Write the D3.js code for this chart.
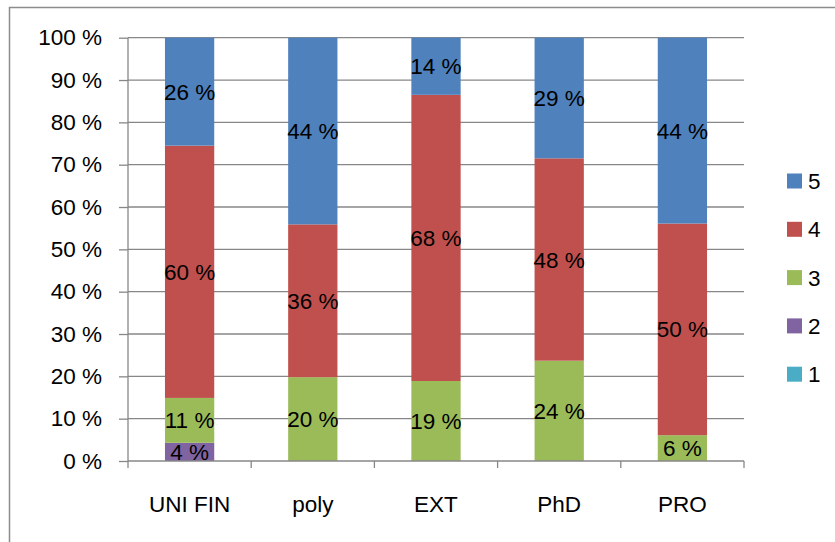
<!DOCTYPE html>
<html><head><meta charset="utf-8">
<script src="https://cdn.jsdelivr.net/npm/d3@7"></script>
<style>body{margin:0;background:#fff}svg{display:block}text{font-family:"Liberation Sans",Arial,sans-serif;fill:#000}</style>
</head><body><svg id="c" width="835" height="542"></svg>
<script>
const categories = ["UNI FIN", "poly", "EXT", "PhD", "PRO"];
const seriesNames = ["1", "2", "3", "4", "5"];
const s1 = [0, 0, 0, 0, 0];
const s2 = [4.3, 0, 0, 0, 0];
const s3 = [10.6, 19.8, 18.9, 23.7, 6.1];
const s4 = [59.6, 36.1, 67.6, 47.8, 50.0];
const s5 = [25.5, 44.1, 13.5, 28.5, 43.9];
const colors = ["#4BACC6", "#8064A2", "#9BBB59", "#C0504D", "#4F81BD"];
const yTicks = [0, 10, 20, 30, 40, 50, 60, 70, 80, 90, 100];

const FONT = '"Liberation Sans",Arial,sans-serif';
const FS = 22.5;
const seriesValues = [s1, s2, s3, s4, s5];
const rows = categories.map((c, i) => {
  const r = {cat: c};
  seriesNames.forEach((s, j) => r[s] = seriesValues[j][i]);
  return r;
});
const stack = d3.stack().keys(seriesNames)(rows);

const svg = d3.select("#c");
const L = 128, R = 744, T = 37.7, B = 461;
const x = d3.scaleBand().domain(categories).range([L, R]).paddingInner(0.6).paddingOuter(0.3);
const xb = d3.scaleBand().domain(categories).range([L, R]);
const y = d3.scaleLinear().domain([0, 100]).range([B, T]);

// outer frame
svg.append("rect").attr("x", 9.5).attr("y", 7.5).attr("width", 900).attr("height", 600)
  .attr("fill", "none").attr("stroke", "#8c8c8c").attr("stroke-width", 1.5);

// gridlines
svg.append("g").selectAll("line").data(yTicks.filter(d => d > 0)).join("line")
  .attr("x1", L).attr("x2", R).attr("y1", d => y(d)).attr("y2", d => y(d))
  .attr("stroke", "#878787").attr("stroke-width", 1.3);

// bars
svg.append("g").selectAll("g").data(stack).join("g")
  .attr("fill", (d, i) => colors[i])
  .selectAll("rect").data(d => d).join("rect")
  .attr("x", d => x(d.data.cat)).attr("width", x.bandwidth())
  .attr("y", d => y(d[1])).attr("height", d => y(d[0]) - y(d[1]));

// labels
const lab = svg.append("g");
stack.forEach(s => {
  s.forEach(d => {
    const v = d[1] - d[0];
    if (v <= 0) return;
    lab.append("text")
      .attr("x", x(d.data.cat) + x.bandwidth() / 2)
      .attr("y", (y(d[0]) + y(d[1])) / 2)
      .attr("dy", "0.36em").attr("text-anchor", "middle")
      .attr("font-size", FS).text(Math.round(v) + " %");
  });
});

// y axis
const yAxis = d3.axisLeft(y).tickValues(yTicks).tickSize(9).tickPadding(17).tickFormat(d => d + " %");
const gy = svg.append("g").attr("transform", `translate(${L},0)`).call(yAxis);
gy.select(".domain").attr("stroke", "#878787").attr("stroke-width", 1.3).attr("d", `M0,${T}V${B}`);
gy.selectAll(".tick line").attr("stroke", "#878787").attr("stroke-width", 1.3);
gy.selectAll("text").attr("font-size", FS).attr("font-family", FONT).attr("fill", "#000");

// x axis
const gx = svg.append("g").attr("transform", `translate(0,${B})`);
gx.append("line").attr("x1", L).attr("x2", R).attr("stroke", "#878787").attr("stroke-width", 1.3);
const bounds = categories.map(c => xb(c)).concat([R]);
gx.selectAll("line.tk").data(bounds).join("line").attr("class", "tk")
  .attr("x1", d => d).attr("x2", d => d).attr("y1", 0).attr("y2", 7)
  .attr("stroke", "#878787").attr("stroke-width", 1.3);
gx.selectAll("text").data(categories).join("text")
  .attr("x", d => xb(d) + xb.bandwidth() / 2).attr("y", 51)
  .attr("text-anchor", "middle").attr("font-size", FS).text(d => d);

// legend
const leg = svg.append("g");
const legOrder = seriesNames.map((s, i) => ({s, c: colors[i]})).reverse();
legOrder.forEach((d, i) => {
  const cy = 181 + i * 48.3;
  leg.append("rect").attr("x", 787).attr("y", cy - 7.5).attr("width", 15).attr("height", 15).attr("fill", d.c);
  leg.append("text").attr("x", 808).attr("y", cy).attr("dy", "0.36em").attr("font-size", FS).text(d.s);
});
</script></body></html>
